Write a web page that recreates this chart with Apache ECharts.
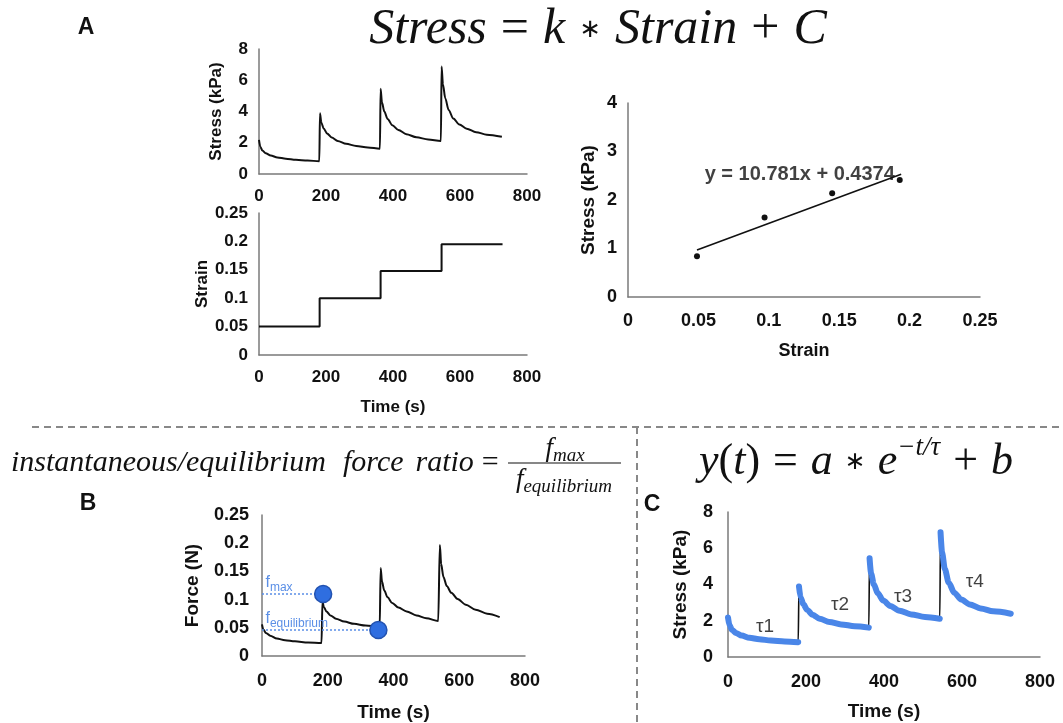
<!DOCTYPE html>
<html><head><meta charset="utf-8">
<script src="https://cdn.jsdelivr.net/npm/echarts@6/dist/echarts.min.js"></script>
<style>html,body{margin:0;padding:0;background:#fff}#c{width:1063px;height:723px}</style>
</head><body><div id="c"></div>
<script>
// ---------- DATA ----------
// stress relaxation (kPa) vs time (s), one array per strain step
const stressSeg1 = [[0,2.18],[4,1.75],[10,1.50],[20,1.33],[35,1.18],[55,1.06],[80,0.98],[110,0.91],[145,0.86],[180,0.82]];
const stressSeg2 = [[182,3.89],[186,3.30],[193,2.92],[203,2.60],[217,2.33],[235,2.11],[260,1.93],[290,1.80],[325,1.70],[361,1.62]];
const stressSeg3 = [[363,5.45],[367,4.60],[374,4.00],[384,3.52],[398,3.12],[416,2.82],[440,2.55],[470,2.35],[505,2.21],[543,2.11]];
const stressSeg4 = [[545,6.88],[549,5.75],[556,4.85],[566,4.10],[580,3.55],[598,3.17],[620,2.90],[648,2.68],[680,2.52],[725,2.39]];

// strain steps
const strainStepTimes = [0, 181, 363, 545, 727];
const strainLevels = [0.05, 0.10, 0.148, 0.195, 0.195];

// equilibrium stress vs strain + linear fit
const fitStrain = [0.049, 0.097, 0.145, 0.193];
const fitStress = [0.84, 1.64, 2.14, 2.41];
const trendStrain = [0.049, 0.194];
const trendStress = [0.97, 2.53];
const trendLabel = 'y = 10.781x + 0.4374';
const trendLabelAt = [0.122, 2.52];

// force (N) vs time (s)
const forceSeg1 = [[0,0.056],[4,0.047],[12,0.041],[25,0.036],[45,0.031],[70,0.028],[100,0.026],[140,0.024],[181,0.023]];
const forceSeg2 = [[184,0.097],[188,0.087],[196,0.079],[208,0.072],[225,0.066],[250,0.061],[280,0.057],[315,0.054],[358,0.052]];
const forceSeg3 = [[361,0.156],[365,0.132],[372,0.116],[382,0.104],[396,0.094],[415,0.086],[440,0.079],[470,0.072],[500,0.067],[536,0.062]];
const forceSeg4 = [[541,0.197],[545,0.163],[552,0.140],[562,0.124],[576,0.112],[595,0.101],[620,0.091],[650,0.082],[685,0.075],[723,0.069]];
const forceMarkTimes = [186, 354];
const forceMarkValues = [0.110, 0.046];
const forceMarkNames = ['max', 'equilibrium'];

// time-constant labels (panel C)
const tauNames = ['τ1', 'τ2', 'τ3', 'τ4'];
const tauAt = [[95,1.66],[287,2.87],[449,3.31],[633,4.14]];

// ticks
const timeRange = [0, 800, 200];
const stressRange = [0, 8, 2];
const strainRange = [0, 0.25, 0.05];
const fitStressRange = [0, 4, 1];
const forceRange = [0, 0.25, 0.05];

// ---------- CHART ----------
const SANS = '"Liberation Sans", Arial, sans-serif';
const SERIF = '"Liberation Serif", "Times New Roman", serif';
const AX = '#7a7a7a';
const BLUE = '#4a86e8';
const FBLUE = '#5b8fe6';

function valAxis(gi, r, fs, margin, name, nameGap, nfs) {
  return {
    gridIndex: gi, type: 'value', min: r[0], max: r[1], interval: r[2],
    axisLine: { show: true, onZero: false, lineStyle: { color: AX, width: 1.5 } },
    axisTick: { show: false }, splitLine: { show: false },
    axisLabel: { fontSize: fs, fontWeight: 'bold', color: '#111', margin: margin, fontFamily: SANS },
    name: name || '', nameLocation: 'middle', nameGap: nameGap || 0,
    nameTextStyle: { fontSize: nfs || fs, fontWeight: 'bold', color: '#111', fontFamily: SANS }
  };
}

const allStress = stressSeg1.concat(stressSeg2, stressSeg3, stressSeg4);
const allForce = forceSeg1.concat(forceSeg2, forceSeg3, forceSeg4);
const strainData = strainStepTimes.map((t, i) => [t, strainLevels[i]]);

const blackLine = (xi, data, w) => ({
  type: 'line', xAxisIndex: xi, yAxisIndex: xi, data: data, showSymbol: false, symbol: 'none',
  smooth: 0.3, smoothMonotone: 'x', lineStyle: { color: '#111', width: w }, silent: true, z: 3
});

const series = [
  blackLine(0, allStress, 2),
  { type: 'line', xAxisIndex: 1, yAxisIndex: 1, data: strainData, step: 'end', symbol: 'none',
    lineStyle: { color: '#111', width: 2 } },
  { type: 'scatter', xAxisIndex: 2, yAxisIndex: 2, data: fitStrain.map((s, i) => [s, fitStress[i]]),
    symbolSize: 6, itemStyle: { color: '#111', opacity: 1 } },
  { type: 'line', xAxisIndex: 2, yAxisIndex: 2, data: trendStrain.map((s, i) => [s, trendStress[i]]),
    symbol: 'none', lineStyle: { color: '#111', width: 1.6 } },
  { type: 'scatter', xAxisIndex: 2, yAxisIndex: 2, data: [trendLabelAt], symbolSize: 0,
    label: { show: true, position: 'inside', formatter: trendLabel, fontSize: 20, fontWeight: 'bold',
      color: '#111', fontFamily: SANS }, z: 5 },
  blackLine(3, allForce, 2)
];
// dotted guide lines + labels for f_max / f_equilibrium
forceMarkTimes.forEach((t, i) => {
  series.push({
    type: 'line', xAxisIndex: 3, yAxisIndex: 3, symbol: 'circle', symbolSize: 1, showSymbol: true,
    itemStyle: { color: 'rgba(0,0,0,0)' },
    lineStyle: { color: FBLUE, width: 1.6, type: [2, 2] },
    data: [
      { value: [0, forceMarkValues[i]], label: {
        show: true, position: 'right', align: 'left', verticalAlign: 'bottom', offset: [-2, 0],
        formatter: '{f|f}{s|' + forceMarkNames[i] + '}',
        rich: { f: { fontSize: 16, color: FBLUE, fontFamily: SANS, verticalAlign: 'top', lineHeight: 19 },
                s: { fontSize: 12, color: FBLUE, fontFamily: SANS, verticalAlign: 'bottom', lineHeight: 19 } } } },
      { value: [t, forceMarkValues[i]], label: { show: false } }
    ], z: 4
  });
});
series.push({
  type: 'scatter', xAxisIndex: 3, yAxisIndex: 3,
  data: forceMarkTimes.map((t, i) => [t, forceMarkValues[i]]), symbolSize: 17,
  itemStyle: { color: '#2f6ee0', borderColor: '#2252b0', borderWidth: 1.5, opacity: 1 }, z: 6
});
// panel C
series.push(blackLine(4, allStress, 1.6));
[stressSeg1, stressSeg2, stressSeg3, stressSeg4].forEach(seg => {
  series.push({ type: 'line', xAxisIndex: 4, yAxisIndex: 4, data: seg, symbol: 'none', smooth: 0.3,
    smoothMonotone: 'x', lineStyle: { color: BLUE, width: 6, cap: 'round' }, z: 4 });
});
series.push({
  type: 'scatter', xAxisIndex: 4, yAxisIndex: 4, data: tauAt, symbolSize: 0,
  label: { show: true, position: 'inside', formatter: p => tauNames[p.dataIndex], fontSize: 19,
    color: '#111', fontFamily: SANS }, z: 6
});

const it = (fs) => ({ fontFamily: SERIF, fontStyle: 'italic', fontSize: fs, fill: '#111' });
const graphic = [
  { type: 'text', x: 86, y: 28, style: { text: 'A', font: 'bold 23px ' + SANS, fill: '#111', align: 'center', verticalAlign: 'middle' } },
  { type: 'text', x: 88, y: 504, style: { text: 'B', font: 'bold 23px ' + SANS, fill: '#111', align: 'center', verticalAlign: 'middle' } },
  { type: 'text', x: 652, y: 505, style: { text: 'C', font: 'bold 23px ' + SANS, fill: '#111', align: 'center', verticalAlign: 'middle' } },
  // formula A
  { type: 'text', x: 598, y: 30, style: {
      text: '{i|Stress}{o|=}{i|k}{a|∗}{i|Strain}{o|+}{i|C}', align: 'center', verticalAlign: 'middle',
      rich: { i: it(50),
              o: { fontFamily: SERIF, fontSize: 50, fill: '#111', padding: [0, 14] },
              a: { fontFamily: '"DejaVu Sans", sans-serif', fontSize: 26, fill: '#111', padding: [0, 14] } } } },
  // formula B
  { type: 'text', x: 11, y: 463, style: {
      text: '{i|instantaneous/equilibrium}{w|force}{r|ratio}{o|=}', align: 'left', verticalAlign: 'middle',
      rich: { i: it(30),
              w: Object.assign(it(30), { padding: [0, 0, 0, 17] }),
              r: Object.assign(it(30), { padding: [0, 0, 0, 12] }),
              o: { fontFamily: SERIF, fontSize: 30, fill: '#111', padding: [0, 0, 0, 8] } } } },
  { type: 'text', x: 565, y: 449, style: {
      text: '{i|f}{s|max}', align: 'center', verticalAlign: 'middle',
      rich: { i: Object.assign(it(27), { verticalAlign: 'middle', lineHeight: 30 }),
              s: Object.assign(it(19), { verticalAlign: 'bottom', lineHeight: 32 }) } } },
  { type: 'line', shape: { x1: 508, y1: 463, x2: 621, y2: 463 }, style: { stroke: '#111', lineWidth: 1.2 } },
  { type: 'text', x: 564, y: 480, style: {
      text: '{i|f}{s|equilibrium}', align: 'center', verticalAlign: 'middle',
      rich: { i: Object.assign(it(27), { verticalAlign: 'middle', lineHeight: 30 }),
              s: Object.assign(it(19), { verticalAlign: 'bottom', lineHeight: 32 }) } } },
  // formula C
  { type: 'text', x: 856, y: 462, style: {
      text: '{i|y}{o|(}{i|t}{o|)}{p|=}{i|a}{a|∗}{i|e}{s|−t/τ}{p|+}{i|b}', align: 'center', verticalAlign: 'middle',
      rich: { i: Object.assign(it(44), { lineHeight: 56 }),
              o: { fontFamily: SERIF, fontSize: 44, fill: '#111', lineHeight: 56 },
              p: { fontFamily: SERIF, fontSize: 44, fill: '#111', lineHeight: 56, padding: [0, 13] },
              a: { fontFamily: '"DejaVu Sans", sans-serif', fontSize: 25, fill: '#111', lineHeight: 56, padding: [0, 12] },
              s: Object.assign(it(27), { verticalAlign: 'top', lineHeight: 56 }) } } },
  // dashed separators
  { type: 'line', shape: { x1: 32, y1: 427, x2: 1063, y2: 427 }, style: { stroke: '#888', lineWidth: 2, lineDash: [7, 5] } },
  { type: 'line', shape: { x1: 637, y1: 427, x2: 637, y2: 723 }, style: { stroke: '#888', lineWidth: 2, lineDash: [7, 5] } }
];

const option = {
  animation: false,
  backgroundColor: '#fff',
  grid: [
    { left: 259, top: 49, width: 268, height: 125 },
    { left: 259, top: 213, width: 268, height: 142 },
    { left: 628, top: 103, width: 352, height: 194 },
    { left: 262, top: 515, width: 263, height: 142 },
    { left: 728, top: 512, width: 312, height: 145 }
  ],
  xAxis: [
    valAxis(0, timeRange, 17, 14),
    valAxis(1, timeRange, 17, 14, 'Time (s)', 44, 17),
    valAxis(2, strainRange, 18, 15, 'Strain', 45, 18),
    valAxis(3, timeRange, 18, 16, 'Time (s)', 47, 19),
    valAxis(4, timeRange, 18, 16, 'Time (s)', 45, 19)
  ],
  yAxis: [
    valAxis(0, stressRange, 17, 11, 'Stress (kPa)', 34, 17),
    valAxis(1, strainRange, 17, 11, 'Strain', 46, 17),
    valAxis(2, fitStressRange, 18, 11, 'Stress (kPa)', 30, 19),
    valAxis(3, forceRange, 18, 13, 'Force (N)', 60, 19),
    valAxis(4, stressRange, 18, 15, 'Stress (kPa)', 38, 19)
  ],
  series: series,
  graphic: graphic
};

const chart = echarts.init(document.getElementById('c'), null, { renderer: 'canvas' });
chart.setOption(option);
</script>
</body></html>
